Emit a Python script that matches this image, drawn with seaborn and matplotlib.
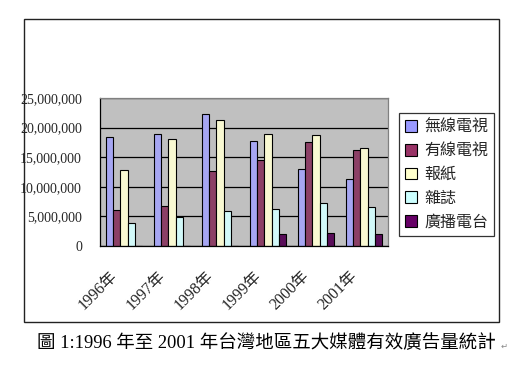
import matplotlib
matplotlib.use('Agg')
import matplotlib.pyplot as plt
import matplotlib.transforms as mtransforms
from matplotlib.patches import Rectangle, Patch
from matplotlib.ticker import FuncFormatter, MultipleLocator, FixedLocator
import seaborn as sns
import pandas as pd

years = ['1996年', '1997年', '1998年', '1999年', '2000年', '2001年']
media = ['無線電視', '有線電視', '報紙', '雜誌', '廣播電台']
tv = [18.4e6, 18.9e6, 22.3e6, 17.7e6, 13.0e6, 11.4e6]
cable = [6.0e6, 6.8e6, 12.7e6, 14.5e6, 17.6e6, 16.2e6]
paper = [12.8e6, 18.1e6, 21.2e6, 18.9e6, 18.7e6, 16.5e6]
magazine = [3.9e6, 4.9e6, 5.9e6, 6.2e6, 7.2e6, 6.6e6]
radio = [0, 0, 0, 2.0e6, 2.2e6, 2.1e6]
caption = '圖 1:1996 年至 2001 年台灣地區五大媒體有效廣告量統計'

series = [tv, cable, paper, magazine, radio]
colors = ['#9999FF', '#993366', '#FFFFCC', '#CCFFFF', '#660066']

rows = []
for m, vals in zip(media, series):
    for y, v in zip(years, vals):
        rows.append({'year': y, 'media': m, 'value': v})
df = pd.DataFrame(rows)

sns.set_style('white')
plt.rcParams['font.family'] = ['Liberation Serif', 'Noto Sans CJK TC', 'DejaVu Sans']

W, H = 520, 371
fig = plt.figure(figsize=(W / 100, H / 100), dpi=100)
fig.patch.set_facecolor('white')

# outer frame
fig.add_artist(Rectangle((24 / W, 1 - 322 / H), (499 - 24) / W, (322 - 19) / H,
                         transform=fig.transFigure, fill=False,
                         edgecolor='#222222', linewidth=1.0))

ax = fig.add_axes([100 / W, 1 - 246 / H, 288 / W, 148 / H])
ax.set_facecolor('#C0C0C0')

sns.barplot(data=df, x='year', y='value', hue='media', hue_order=media,
            order=years, palette=colors, width=0.76, edgecolor='black',
            linewidth=0.8, errorbar=None, legend=False, ax=ax)

ax.set_xlim(-0.5, len(years) - 0.5)
ax.set_ylim(0, 25e6)
ax.yaxis.set_major_locator(MultipleLocator(5e6))
ax.yaxis.set_major_formatter(FuncFormatter(lambda v, p: f'{v:,.0f}'))
ax.grid(axis='y', color='black', linewidth=0.9)
ax.set_axisbelow(True)
ax.set_xlabel('')
ax.set_ylabel('')

for s in ['top', 'right']:
    ax.spines[s].set_color('#808080')
    ax.spines[s].set_linewidth(0.9)
for s in ['left', 'bottom']:
    ax.spines[s].set_color('black')
    ax.spines[s].set_linewidth(0.9)

ax.tick_params(axis='y', length=0, pad=13, labelsize=10)
for lab in ax.get_yticklabels():
    lab.set_family(['Liberation Serif'])

# category boundary ticks
ax.xaxis.set_minor_locator(FixedLocator([i + 0.5 for i in range(len(years) - 1)]))
ax.tick_params(axis='x', which='minor', direction='in', length=3, width=0.8, color='black')
ax.tick_params(axis='x', which='major', length=0, pad=20)
ax.set_xticks(range(len(years)))
ax.set_xticklabels(years, rotation=45, ha='right', va='center',
                   rotation_mode='anchor', fontsize=11.5)
off = mtransforms.ScaledTranslation(-9 / 100, 0, fig.dpi_scale_trans)
for lab in ax.get_xticklabels():
    lab.set_transform(lab.get_transform() + off)

handles = [Patch(facecolor=c, edgecolor='black', linewidth=0.8, label=m)
           for c, m in zip(colors, media)]
leg = fig.legend(handles=handles, loc='upper left',
                 bbox_to_anchor=(399 / W, 1 - 113 / H),
                 frameon=True, fancybox=False, edgecolor='black',
                 handlelength=0.75, handleheight=0.75, handletextpad=0.5,
                 labelspacing=0.42, borderpad=0.35, borderaxespad=0,
                 prop={'family': ['Noto Sans CJK TC'], 'size': 11.5})
leg.get_frame().set_linewidth(0.9)

fig.text(37 / W, 1 - 343 / H, caption, ha='left', va='center', fontsize=13.3,
         family=['Liberation Serif', 'Noto Sans CJK TC'], color='black')
fig.text(501 / W, 1 - 346 / H, '↵', ha='left', va='center', fontsize=6,
         family=['DejaVu Sans'], color='#888888')

fig.savefig('out.png', dpi=100, facecolor='white')
